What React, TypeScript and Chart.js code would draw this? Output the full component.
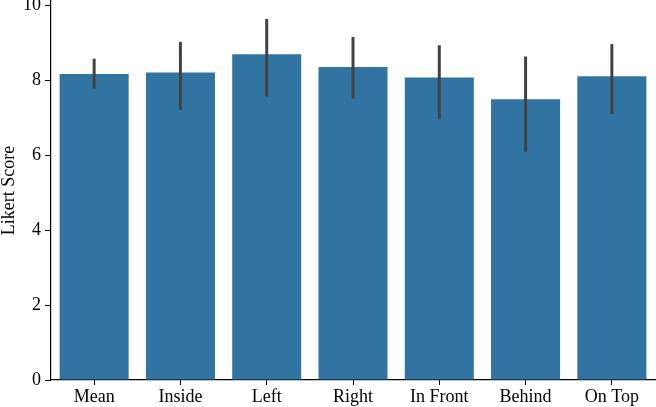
import { useEffect, useRef } from 'react';
import { Chart, registerables } from 'chart.js';

const categories = ['Mean', 'Inside', 'Left', 'Right', 'In Front', 'Behind', 'On Top'];
const scores = [8.16, 8.2, 8.69, 8.35, 8.07, 7.49, 8.1];
const errLow = [7.77, 7.21, 7.56, 7.51, 6.97, 6.09, 7.09];
const errHigh = [8.57, 9.02, 9.63, 9.15, 8.93, 8.63, 8.96];
const yTicks = [0, 2, 4, 6, 8, 10];

const FONT = { family: '"Liberation Serif", serif', size: 18, lineHeight: 1 };

// draws the confidence interval lines on top of the bars
const errorBars = {
  id: 'errorBars',
  afterDatasetsDraw(chart: Chart) {
    const meta = chart.getDatasetMeta(0);
    const y = chart.scales.y;
    const ctx = chart.ctx;
    ctx.save();
    ctx.strokeStyle = '#424242';
    ctx.lineWidth = 3;
    ctx.lineCap = 'butt';
    meta.data.forEach((bar: any, i: number) => {
      ctx.beginPath();
      ctx.moveTo(bar.x, y.getPixelForValue(errLow[i]));
      ctx.lineTo(bar.x, y.getPixelForValue(errHigh[i]));
      ctx.stroke();
    });
    ctx.restore();
  },
};

export default function App() {
  const chartRef = useRef<HTMLCanvasElement>(null);
  const chartInstanceRef = useRef<Chart | null>(null);

  useEffect(() => {
    if (!chartRef.current) return;
    Chart.register(...registerables);

    if (chartInstanceRef.current) {
      chartInstanceRef.current.destroy();
    }

    const ctx = chartRef.current.getContext('2d');
    if (!ctx) return;

    chartInstanceRef.current = new Chart(ctx, {
      type: 'bar',
      data: {
        labels: categories,
        datasets: [
          {
            data: scores,
            backgroundColor: '#3274a1',
            borderWidth: 0,
            barPercentage: 0.8,
            categoryPercentage: 1,
          },
        ],
      },
      plugins: [errorBars],
      options: {
        animation: false,
        responsive: true,
        maintainAspectRatio: false,
        layout: { padding: { top: 1, right: 1, left: 0, bottom: 0 } },
        plugins: {
          legend: { display: false },
          tooltip: { enabled: false },
        },
        scales: {
          x: {
            afterFit: (scale: any) => {
              scale.height = 27;
              scale.paddingLeft = 0;
              scale.paddingRight = 0;
            },
            grid: {
              drawOnChartArea: false,
              drawTicks: true,
              tickLength: 5,
              offset: false,
              color: '#000',
            },
            border: { display: true, color: '#000', width: 1.2 },
            ticks: {
              color: '#000',
              font: FONT,
              padding: 3,
              maxRotation: 0,
              autoSkip: false,
            },
          },
          y: {
            min: 0,
            max: 10.11,
            afterFit: (scale: any) => {
              scale.width = 51;
              scale.paddingTop = 0;
              scale.paddingBottom = 0;
            },
            afterBuildTicks: (scale: any) => {
              scale.ticks = yTicks.map(v => ({ value: v }));
            },
            grid: {
              drawOnChartArea: false,
              drawTicks: true,
              tickLength: 6,
              color: '#000',
            },
            border: { display: true, color: '#000', width: 1.2 },
            ticks: {
              color: '#000',
              font: FONT,
              padding: 4,
            },
            title: {
              display: true,
              text: 'Likert Score',
              color: '#000',
              font: FONT,
              padding: { top: 0, bottom: 0 },
            },
          },
        },
      },
    });

    return () => {
      if (chartInstanceRef.current) {
        chartInstanceRef.current.destroy();
        chartInstanceRef.current = null;
      }
    };
  }, []);

  return (
    <div style={{ position: 'fixed', left: 0, top: 0, width: 656, height: 407, background: '#fff' }}>
      <canvas ref={chartRef} />
    </div>
  );
}
